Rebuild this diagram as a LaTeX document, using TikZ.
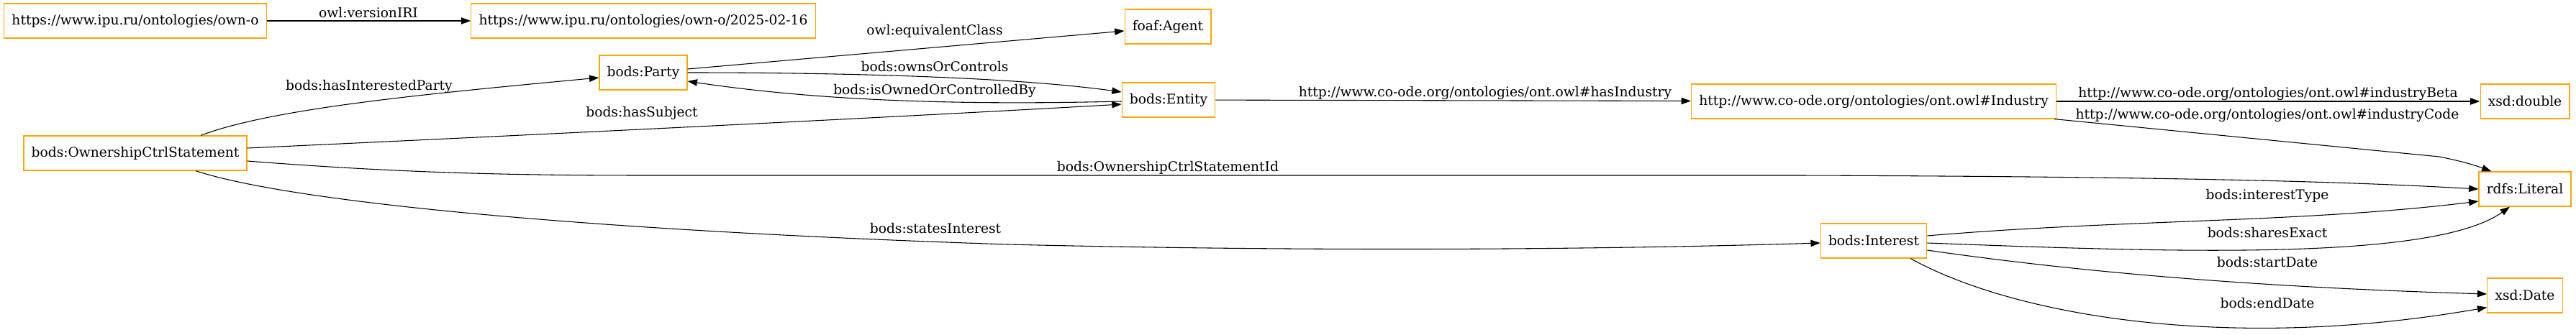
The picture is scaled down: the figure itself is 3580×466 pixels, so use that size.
\documentclass[tikz,border=0pt]{standalone}
\usepackage{fontspec}
\setmainfont{DejaVu Serif}
\usetikzlibrary{arrows.meta,calc}

\begin{document}
\begin{tikzpicture}[x=0.75pt,y=-0.75pt]
\definecolor{ontorange}{rgb}{1, 0.647, 0}
\tikzset{cls/.style={rectangle,draw=ontorange,line width=0.9pt,fill=white,
    minimum height=36pt,inner xsep=8pt,inner ysep=0pt,font=\fontsize{14pt}{16pt}\selectfont}}
\tikzset{lbl/.style={inner sep=0pt,font=\fontsize{14pt}{16pt}\selectfont}}
\tikzset{rel/.style={line width=0.8pt,-{Triangle[length=10pt,width=7pt]}}}

\useasboundingbox (0,0) rectangle (3580,466);

\node[cls] (own) at (188,29) {https://www.ipu.ru/ontologies/own-o};
\node[cls] (ver) at (894,29) {https://www.ipu.ru/ontologies/own-o/2025-02-16};
\node[cls] (party) at (894,101) {bods:Party};
\node[cls] (agent) at (1623,37) {foaf:Agent};
\node[cls] (entity) at (1624,139) {bods:Entity};
\node[cls] (stmt) at (188,213) {bods:OwnershipCtrlStatement};
\node[cls] (industry) at (2604,141) {http://www.co-ode.org/ontologies/ont.owl\#Industry};
\node[cls] (double) at (3509,141) {xsd:double};
\node[cls] (literal) at (3509,263) {rdfs:Literal};
\node[cls] (interest) at (2604,335) {bods:Interest};
\node[cls] (date) at (3509,411) {xsd:Date};

% edge labels
\node[lbl] (lVersion) at (512,18) {owl:versionIRI};
\node[lbl] (lParty) at (513,120) {bods:hasInterestedParty};
\node[lbl] (lEquiv) at (1299,43) {owl:equivalentClass};
\node[lbl] (lOwns) at (1299,93) {bods:ownsOrControls};
\node[lbl] (lOwned) at (1299,126) {bods:isOwnedOrControlledBy};
\node[lbl] (lSubject) at (892,157) {bods:hasSubject};
\node[lbl] (lStmtId) at (1623,233) {bods:OwnershipCtrlStatementId};
\node[lbl] (lStates) at (1300,318) {bods:statesInterest};
\node[lbl] (lIndustry) at (2064,129) {http://www.co-ode.org/ontologies/ont.owl\#hasIndustry};
\node[lbl] (lBeta) at (3152,130) {http://www.co-ode.org/ontologies/ont.owl\#industryBeta};
\node[lbl] (lCode) at (3151,160) {http://www.co-ode.org/ontologies/ont.owl\#industryCode};
\node[lbl] (lType) at (3151,272) {bods:interestType};
\node[lbl] (lShares) at (3151,324) {bods:sharesExact};
\node[lbl] (lStart) at (3151,365) {bods:startDate};
\node[lbl] (lEnd) at (3151,422) {bods:endDate};

\draw[rel] (own) -- (ver);
\draw[rel] ($(party.east)+(0,-5)$) -- ($(agent.west)+(0,6)$);
\draw[rel] (party.east) .. controls (1150,101) and (1400,106) .. ($(entity.west)+(0,-11)$);
\draw[rel] ($(entity.west)+(0,2)$) .. controls (1350,146) and (1150,142) .. ($(party.east)+(0,12)$);
\draw[rel] ($(stmt.east)+(0,-7)$) .. controls (800,185) and (1300,160) .. ($(entity.west)+(0,6)$);
\draw[rel] ($(stmt.north)+(91,0)$) .. controls (380,150) and (600,130) .. ($(party.west)+(0,7)$);
\draw[rel] ($(stmt.east)+(0,11)$) .. controls (550,240) and (700,244) .. (900,244) -- (2500,244)
    .. controls (3100,246) and (3300,255) .. (literal.west);
\draw[rel] ($(stmt.south)+(84,0)$) .. controls (400,280) and (800,320) .. (1400,340)
    .. controls (1900,352) and (2300,345) .. ($(interest.west)+(0,3)$);
\draw[rel] (entity) -- (industry);
\draw[rel] (industry) -- (double);
\draw[rel] ($(industry.south east)+(-3,0)$) -- (3390,218) .. controls (3430,226) and (3445,232) .. ($(literal.north west)+(18,0)$);
\draw[rel] ($(interest.east)+(0,-7)$) .. controls (2950,305) and (3200,310) .. ($(literal.west)+(0,17)$);
\draw[rel] ($(interest.east)+(0,3)$) .. controls (3000,350) and (3380,365) .. ($(literal.south)+(-21,0)$);
\draw[rel] ($(interest.east)+(0,13)$) .. controls (2900,380) and (3150,400) .. ($(date.west)+(0,-2)$);
\draw[rel] ($(interest.south east)+(-23,0)$) .. controls (2800,440) and (3100,490) .. ($(date.south west)+(0,-8)$);

\end{tikzpicture}
\end{document}
